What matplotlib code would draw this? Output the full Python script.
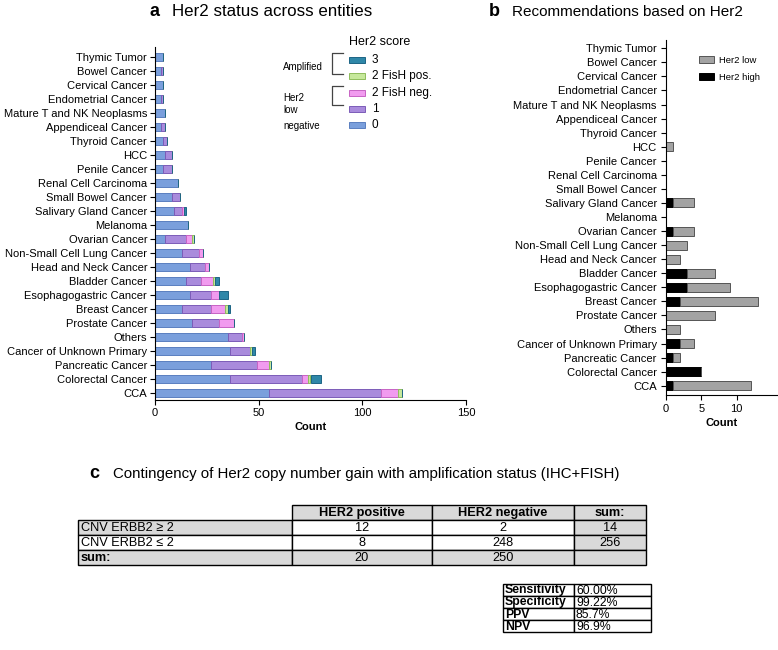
"""Her2 status figure: stacked bars per entity, recommendations, contingency table."""
import matplotlib

matplotlib.use("Agg")
import matplotlib.pyplot as plt  # noqa: E402
import numpy as np
from matplotlib.patches import Rectangle

plt.rcParams["font.family"] = ["Liberation Sans", "DejaVu Sans"]
plt.rcParams["font.size"] = 8

W, H = 778, 650

# --- data -------------------------------------------------------------
entities = [
    "Thymic Tumor", "Bowel Cancer", "Cervical Cancer", "Endometrial Cancer",
    "Mature T and NK Neoplasms", "Appendiceal Cancer", "Thyroid Cancer", "HCC",
    "Penile Cancer", "Renal Cell Carcinoma", "Small Bowel Cancer",
    "Salivary Gland Cancer", "Melanoma", "Ovarian Cancer",
    "Non-Small Cell Lung Cancer", "Head and Neck Cancer", "Bladder Cancer",
    "Esophagogastric Cancer", "Breast Cancer", "Prostate Cancer", "Others",
    "Cancer of Unknown Primary", "Pancreatic Cancer", "Colorectal Cancer", "CCA",
]
score_0 = [4, 3, 4, 3, 5, 3, 4, 5, 4, 11, 8, 9, 16, 5, 13, 17, 15, 17, 13, 18, 35, 36, 27, 36, 55]
score_1 = [0, 1, 0, 1, 0, 2, 2, 3, 4, 0, 4, 4, 0, 10, 8, 7, 7, 10, 14, 13, 7, 10, 22, 35, 54]
score_2_neg = [0, 0, 0, 0, 0, 0, 0, 0, 0, 0, 0, 1, 0, 3, 2, 2, 6, 4, 7, 7, 1, 0, 6, 3, 8]
score_2_pos = [0, 0, 0, 0, 0, 0, 0, 0, 0, 0, 0, 0, 0, 1, 0, 0, 1, 0, 1, 0, 0, 1, 1, 1, 2]
score_3 = [0, 0, 0, 0, 0, 0, 0, 0, 0, 0, 0, 1, 0, 0, 0, 0, 2, 4, 1, 0, 0, 1, 0, 5, 0]

her2_high = [0, 0, 0, 0, 0, 0, 0, 0, 0, 0, 0, 1, 0, 1, 0, 0, 3, 3, 2, 0, 0, 2, 1, 5, 1]
her2_low = [0, 0, 0, 0, 0, 0, 0, 1, 0, 0, 0, 3, 0, 3, 3, 2, 4, 6, 11, 7, 2, 2, 1, 0, 11]

table_cols = ["", "HER2 positive", "HER2 negative", "sum:"]
table_rows = ["CNV ERBB2 \u2265 2", "CNV ERBB2 \u2264 2", "sum:"]
table_vals = [["12", "2", "14"], ["8", "248", "256"], ["20", "250", ""]]
stat_names = ["Sensitivity", "Specificity", "PPV", "NPV"]
stat_vals = ["60.00%", "99.22%", "85.7%", "96.9%"]

# --- style ------------------------------------------------------------
SCORE_STYLE = [  # (label, face, edge) in stacking order
    ("0", "#7a9fdc", "#5a7fc0"),
    ("1", "#a98bdc", "#7c5cb8"),
    ("2 FisH neg.", "#f19bef", "#c763c4"),
    ("2 FisH pos.", "#c6e89b", "#8fbd5c"),
    ("3", "#2f87a8", "#1d6585"),
]
GRAY_FILL = "#d9d9d9"
LABEL_FS = 8
TABLE_FS = 9.2
STAT_FS = 8.8


def fx(px):
    return px / W


def fy(py):
    return 1 - py / H


def rect(l, t, r, b):
    return [fx(l), fy(b), fx(r) - fx(l), fy(t) - fy(b)]


fig = plt.figure(figsize=(W / 100, H / 100), dpi=100)

# --- panel a ----------------------------------------------------------
ax = fig.add_axes(rect(155, 46.7, 466, 400))
y = np.arange(len(entities))[::-1]
left = np.zeros(len(entities))
for series, (lab, face, edge) in zip(
    [score_0, score_1, score_2_neg, score_2_pos, score_3], SCORE_STYLE
):
    vals = np.array(series, dtype=float)
    ax.barh(y, vals, left=left, height=0.6, color=face, edgecolor=edge, linewidth=0.7)
    left += vals
ax.set_yticks(y)
ax.set_yticklabels(entities, fontsize=LABEL_FS)
ax.set_xlim(0, 150)
ax.set_ylim(-0.52, 24.74)
ax.set_xticks([0, 50, 100, 150])
ax.tick_params(axis="x", labelsize=8)
ax.set_xlabel("Count", fontweight="bold", fontsize=8, labelpad=3)
for s in ["top", "right"]:
    ax.spines[s].set_visible(False)
ax.tick_params(length=3.6, width=0.8, pad=2)

fig.text(fx(150), fy(12), "a", fontsize=13, fontweight="bold", va="center")
fig.text(fx(172), fy(12), "Her2 status across entities", fontsize=12.2, va="center")

# --- panel b ----------------------------------------------------------
bx = fig.add_axes(rect(666, 40, 778, 395))
yb = np.arange(len(entities))[::-1]
bx.barh(yb, her2_high, height=0.64, color="black", edgecolor="black", linewidth=0.7,
        label="Her2 high")
bx.barh(yb, her2_low, left=her2_high, height=0.64, color="#a3a3a3", edgecolor="#555555",
        linewidth=0.7, label="Her2 low")
bx.set_yticks(yb)
bx.set_yticklabels(entities, fontsize=LABEL_FS)
bx.set_xlim(0, (778 - 666) / 7.07)
bx.set_ylim(-0.66, 24.59)
bx.set_xticks([0, 5, 10])
bx.tick_params(axis="x", labelsize=8)
bx.set_xlabel("Count", fontweight="bold", fontsize=8, labelpad=3)
for s in ["top", "right"]:
    bx.spines[s].set_visible(False)
bx.tick_params(length=3.6, width=0.8, pad=3)
h, l = bx.get_legend_handles_labels()
bx.legend(h[::-1], l[::-1], loc="upper left", bbox_to_anchor=(0.22, 0.98), frameon=False,
          fontsize=6.8, handlelength=1.6, handleheight=0.8, labelspacing=0.9,
          handletextpad=0.5)

fig.text(fx(489), fy(12), "b", fontsize=13, fontweight="bold", va="center")
fig.text(fx(512), fy(12), "Recommendations based on Her2", fontsize=11, va="center")

# --- overlay for legend of a and tables ---------------------------------
ov = fig.add_axes([0, 0, 1, 1], zorder=5)
ov.set_xlim(0, W)
ov.set_ylim(H, 0)
ov.axis("off")

ov.text(349, 42, "Her2 score", fontsize=9, va="center")
legend_rows = list(reversed(SCORE_STYLE))
for i, (lab, face, edge) in enumerate(legend_rows):
    yy = 60 + i * 16.3
    ov.add_patch(Rectangle((349, yy - 3), 16, 6, facecolor=face, edgecolor=edge, lw=0.7))
    ov.text(372, yy, lab, fontsize=8.5, va="center")
for top, bot in [(53, 74), (86, 105)]:
    ov.plot([343, 332, 332, 343], [top, top, bot, bot], color="#444444", lw=0.9)
ov.text(283, 67, "Amplified", fontsize=7, va="center")
ov.text(283, 98, "Her2", fontsize=7, va="center")
ov.text(283, 110, "low", fontsize=7, va="center")
ov.text(283, 126, "negative", fontsize=7, va="center")

# panel c
ov.text(89, 474, "c", fontsize=13, fontweight="bold", va="center")
ov.text(113, 474, "Contingency of Her2 copy number gain with amplification status (IHC+FISH)",
        fontsize=10.8, va="center")

col_x = [78, 292, 432, 574, 646]
row_y = [505, 520, 535, 550, 565]
for r in range(4):
    for c in range(4):
        if r == 0 and c == 0:
            continue
        shaded = r == 0 or c == 3 or r == 3 or (r == 1 and c == 0)
        x0, x1 = col_x[c], col_x[c + 1]
        y0, y1 = row_y[r], row_y[r + 1]
        ov.add_patch(Rectangle((x0, y0), x1 - x0, y1 - y0,
                               facecolor=GRAY_FILL if shaded else "white",
                               edgecolor="black", lw=1.0))
        if r == 0:
            txt, bold, ha = table_cols[c], True, "center"
        elif c == 0:
            txt, bold, ha = table_rows[r - 1], r == 3, "left"
        else:
            txt, bold, ha = table_vals[r - 1][c - 1], False, "center"
        tx = x0 + 3 if ha == "left" else (x0 + x1) / 2
        ov.text(tx, (y0 + y1) / 2 + 0.5, txt, ha=ha, va="center", fontsize=TABLE_FS,
                fontweight="bold" if bold else "normal")

sx = [503, 574, 651]
sy0, sh = 584, 12
for i, (name, val) in enumerate(zip(stat_names, stat_vals)):
    yy = sy0 + i * sh
    for c in range(2):
        ov.add_patch(Rectangle((sx[c], yy), sx[c + 1] - sx[c], sh, facecolor="white",
                               edgecolor="black", lw=1.0))
    ov.text(sx[0] + 2, yy + sh / 2 + 0.5, name, fontsize=STAT_FS, fontweight="bold",
            va="center")
    ov.text(sx[1] + 2, yy + sh / 2 + 0.5, val, fontsize=STAT_FS, va="center")

fig.savefig("out.png", dpi=100)
plt.close(fig)
